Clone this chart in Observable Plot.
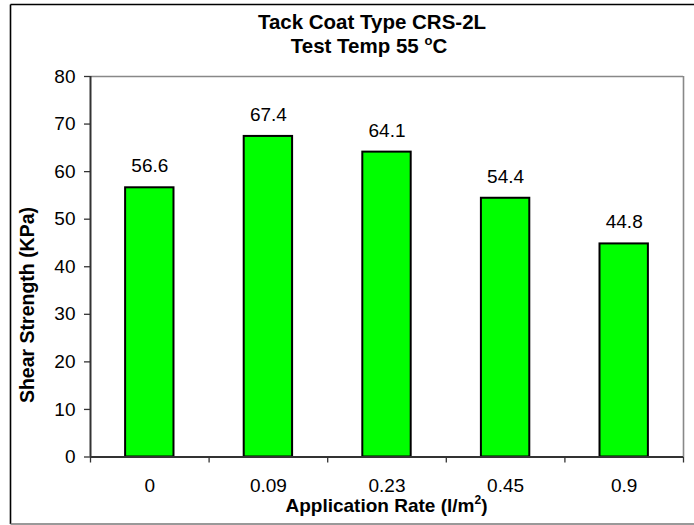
<!DOCTYPE html>
<html>
<head>
<meta charset="utf-8">
<script src="https://cdn.jsdelivr.net/npm/d3@7"></script>
<script src="https://cdn.jsdelivr.net/npm/@observablehq/plot@0.6"></script>
<style>
  html, body { margin: 0; padding: 0; background: #fff; }
  #chart { width: 694px; height: 525px; }
</style>
</head>
<body>
<div id="chart"></div>
<script>
const categories = ["0", "0.09", "0.23", "0.45", "0.9"];
const values = [56.6, 67.4, 64.1, 54.4, 44.8];
const yTicks = [0, 10, 20, 30, 40, 50, 60, 70, 80];
const title = "Tack Coat Type CRS-2L";
const subtitle = "Test Temp 55 ";
const xLabel = "Application Rate (l/m";
const yLabel = "Shear Strength (KPa)";

const data = categories.map((c, i) => ({cat: c, i, value: values[i]}));
const W = 694, H = 525;
const mL = 90, mR = 11, mT = 76, mB = 68.5;
const font = "'Liberation Sans', Arial, sans-serif";

const chart = Plot.plot({
  width: W,
  height: H,
  marginLeft: mL,
  marginRight: mR,
  marginTop: mT,
  marginBottom: mB,
  style: {fontFamily: font, fontSize: "19px", color: "#000", background: "#fff", overflow: "visible"},
  x: {type: "linear", domain: [0, categories.length]},
  y: {domain: [0, 80]},
  marks: [
    Plot.ruleY([80], {stroke: "#888", strokeWidth: 1.6}),
    Plot.ruleX([categories.length], {stroke: "#888", strokeWidth: 1.6}),
    Plot.rectY(data, {x1: d => d.i + 0.296, x2: d => d.i + 0.704, y1: 0, y2: "value", fill: "#00FF00", stroke: "#000", strokeWidth: 2}),
    Plot.text(data, {x: d => d.i + 0.5, y: "value", text: d => d.value.toFixed(1), lineAnchor: "bottom", dy: -15.5, fontSize: 19, fill: "#000"}),
    Plot.axisY({ticks: yTicks, tickSize: 6, tickPadding: 9, label: null, fontSize: 19, stroke: "#333", strokeWidth: 1.3}),
    Plot.axisX({ticks: d3.range(categories.length + 1), tickSize: 6, tickFormat: () => "", label: null, stroke: "#333", strokeWidth: 1.3}),
    Plot.axisX({ticks: categories.map((c, i) => i + 0.5), tickSize: 0, tickPadding: 21.5, tickFormat: v => categories[Math.floor(v)], label: null, fontSize: 19}),
    Plot.ruleX([0], {stroke: "#333", strokeWidth: 2}),
    Plot.ruleY([0], {stroke: "#333", strokeWidth: 2})
  ]
});

document.getElementById("chart").appendChild(chart);

const svg = d3.select(chart);
// outer chart border
const border = svg.append("g").attr("fill", "none");
border.append("line").attr("x1", 10.5).attr("x2", 10.5).attr("y1", 4.5).attr("y2", 524).attr("stroke", "#000").attr("stroke-width", 1.6);
border.append("line").attr("x1", 10.5).attr("x2", 700).attr("y1", 4.5).attr("y2", 4.5).attr("stroke", "#000").attr("stroke-width", 1.6);
border.append("line").attr("x1", 10.5).attr("x2", 700).attr("y1", 524).attr("y2", 524).attr("stroke", "#777").attr("stroke-width", 1.6);

const t = svg.append("g").attr("font-family", font).attr("font-weight", "bold").attr("fill", "#000").attr("text-anchor", "middle");
t.append("text").attr("x", 372).attr("y", 28.5).attr("font-size", 20.5).text(title);
const st = t.append("text").attr("x", 369).attr("y", 52.5).attr("font-size", 20.5);
st.append("tspan").text(subtitle);
st.append("tspan").attr("font-size", 13).attr("dy", -7.5).text("o");
st.append("tspan").attr("dy", 7.5).text("C");

const xl = t.append("text").attr("x", mL + (W - mL - mR) / 2).attr("y", 512).attr("font-size", 19);
xl.append("tspan").text(xLabel);
xl.append("tspan").attr("font-size", 12).attr("dy", -8).text("2");
xl.append("tspan").attr("dy", 8).text(")");

t.append("text").attr("transform", "translate(34,305) rotate(-90)").attr("font-size", 19.5).text(yLabel);
</script>
</body>
</html>
